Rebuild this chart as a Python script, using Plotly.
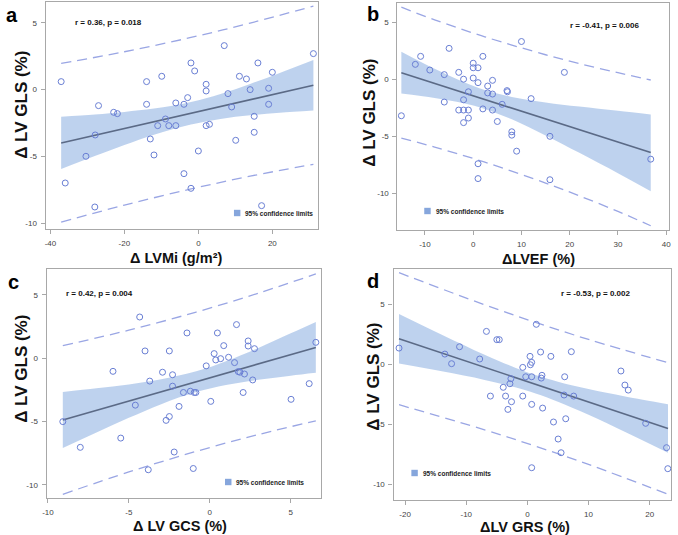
import plotly.graph_objects as go

W, H = 678, 535

# ---------------- data ----------------
# Panel a: dLVMi vs dLV GLS
a_x = [-37.1, -36, -30.4, -27.9, -28, -27, -22.9, -21.9, -14, -14, -13, -12, -11, -9.9, -8.9, -8, -6.1, -6.1,
       -3.9, -2.9, -3.9, -2, -1, -2, 0, 2.1, 2.1, 2.1, 3, 7, 8, 9, 10.1, 11.1, 13, 14, 15.1, 15.1, 16.1, 17.1,
       19, 19, 20, 31.1]
a_y = [0.6, -7.0, -5.0, -3.4, -8.8, -1.2, -1.7, -1.8, 0.6, -1.1, -3.7, -4.9, -2.7, 1.0, -2.2, -2.7, -1.0, -2.7,
       -1.1, -0.6, -6.3, 2.0, 1.4, -7.4, -4.6, 0.4, -0.1, -2.7, -2.6, 3.3, -0.3, -1.3, -3.8, 1.0, 0.8, 0.0, -2.0,
       -3.2, 2.0, -8.7, 0.1, -1.1, 1.3, 2.7]
a_fit_x = [-37.1, 31.1]
a_fit_y = [-4.0, 0.33]
a_band_x = [-37.1, -28, -20, -12, -2, 6, 14, 22, 31.1]
a_band_hi = [-2.03, -1.86, -1.67, -1.42, -0.92, -0.32, 0.43, 1.25, 2.22]
a_band_lo = [-5.95, -4.98, -4.15, -3.38, -2.62, -2.20, -1.93, -1.73, -1.56]
a_pred_x = [-37.1, -20, -2, 14, 31.1]
a_pred_hi = [1.96, 2.84, 3.91, 4.99, 6.26]
a_pred_lo = [-9.94, -8.66, -7.45, -6.49, -5.60]

# Panel b: dLVEF vs dLV GLS
b_x = [-14.9, -12, -10.9, -9, -6, -6, -5, -3, -3, -2, -2, -2, -2, -1, -1, -1, 0, 0, 0, 1, 1, 1, 1, 2, 2,
       3, 3, 4, 4, 4, 5, 6, 7, 7.1, 8, 8, 9, 10, 12, 15.9, 15.9, 18.9, 36.8]
b_y = [-3.2, 1.3, 2.0, 0.8, 0.4, -2.0, 2.7, 0.6, -2.7, 0.0, -1.8, -2.7, -3.8, -1.1, -2.7, -3.4, 1.4, 1.0, 0.1,
       1.0, -0.3, -7.4, -8.7, 2.0, -2.6, -0.6, -1.2, -0.1, -1.3, -2.7, -3.7, -2.2, -1.0, -1.1, -4.6, -4.9,
       -6.3, 3.3, -1.7, -5.0, -8.8, 0.6, -7.0]
b_fit_x = [-14.9, 36.8]
b_fit_y = [0.56, -6.42]
b_band_x = [-14.9, -8, -2, 2.4, 8, 15, 22, 30, 36.8]
b_band_hi = [2.41, 0.91, -0.25, -0.95, -1.55, -2.03, -2.40, -2.77, -3.08]
b_band_lo = [-1.26, -1.65, -2.11, -2.60, -3.51, -4.92, -6.44, -8.23, -9.81]
b_pred_x = [-14.9, -8, 2.4, 15, 22, 30, 36.8]
b_pred_hi = [6.30, 5.20, 3.71, 2.14, 1.37, 0.57, -0.07]
b_pred_lo = [-5.15, -5.94, -7.26, -9.09, -10.21, -11.57, -12.83]

# Panel c: dLV GCS vs dLV GLS
c_x = [-9.08, -8.0, -5.98, -5.5, -4.6, -4.33, -4.0, -3.71, -3.8, -2.92, -2.7, -2.5, -2.5, -2.3, -2.3, -2.2,
       -1.9, -1.63, -1.41, -1.2, -0.96, -0.86, -1.02, -0.22, 0.06, 0.27, 0.37, 0.47, 0.67, 0.86, 1.16, 1.53,
       1.65, 1.76, 1.86, 2.14, 2.06, 2.37, 2.37, 2.65, 2.76, 5.02, 6.14, 6.55]
c_y = [-5.0, -7.03, -1.03, -6.3, -3.7, 3.26, 0.58, -1.8, -8.8, -1.1, -4.9, -4.6, 0.58, -1.3, -2.2, -7.4,
       -3.8, -2.7, 2.0, -2.6, -2.7, -2.7, -8.7, -0.6, -3.4, 0.37, -0.13, 2.0, -0.03, 1.0, 0.08, -0.34, 2.66,
       -1.05, -1.1, -1.24, -2.7, 1.37, 0.97, -1.71, 0.76, -3.24, -2.0, 1.26]
c_fit_x = [-9.08, 6.55]
c_fit_y = [-4.87, 0.86]
c_band_x = [-9.08, -7, -5, -3, -0.84, 1, 3, 5, 6.55]
c_band_hi = [-2.66, -2.37, -2.06, -1.66, -1.03, -0.23, 0.82, 1.97, 2.87]
c_band_lo = [-7.08, -5.85, -4.70, -3.62, -2.67, -2.11, -1.70, -1.38, -1.15]
c_pred_x = [-9.08, -5, -0.84, 3, 6.55]
c_pred_hi = [1.00, 2.22, 3.65, 5.14, 6.66]
c_pred_lo = [-10.74, -8.97, -7.35, -6.02, -4.94]

# Panel d: dLV GRS vs dLV GLS
d_x = [-21.0, -13.5, -12.4, -11.1, -7.8, -6.7, -6.05, -5.0, -4.6, -3.95, -3.57, -3.19, -2.86, -2.7, -2.6,
       -0.76, -0.76, -0.27, 0.43, 0.49, 0.7, 0.7, 0.7, 0.7, 1.46, 2.16, 2.27, 2.38, 2.49, 3.84, 4.27, 5.03,
       5.51, 6.1, 6.0, 6.27, 7.19, 7.57, 15.3, 15.95, 16.5, 19.35, 22.76, 22.97]
d_y = [1.33, 0.83, 0.03, 1.44, 0.42, 2.72, -2.67, 2.03, 2.03, -1.94, -2.67, -3.78, -1.64, -1.22, -3.14,
       -0.28, -2.67, -1.06, 0.64, -0.06, 0.14, -1.06, -3.36, -8.64, 3.31, 1.0, -1.17, -0.94, -3.67, 0.64,
       -4.83, -6.25, -7.39, -1.06, -2.58, -4.56, 1.03, -2.67, -0.58, -1.75, -2.17, -4.94, -6.97, -8.72]
d_fit_x = [-21.0, 23.0]
d_fit_y = [2.11, -5.37]
d_band_x = [-21, -14, -7, -2, 1.34, 5, 10, 16, 23]
d_band_hi = [4.18, 2.45, 0.78, -0.30, -0.92, -1.48, -2.09, -2.70, -3.35]
d_band_lo = [0.04, -0.61, -1.32, -1.94, -2.46, -3.14, -4.23, -5.66, -7.39]
d_pred_x = [-21, -7, 1.34, 10, 23]
d_pred_hi = [7.61, 4.94, 3.47, 2.05, 0.11]
d_pred_lo = [-3.39, -5.48, -6.85, -8.37, -10.85]

stats_text = ["r = 0.36, p = 0.018", "r = -0.41, p = 0.006", "r = 0.42, p = 0.004", "r = -0.53, p = 0.002"]
x_titles = ["Δ LVMi (g/m²)", "ΔLVEF (%)", "Δ LV GCS (%)", "ΔLV GRS (%)"]
y_title = "Δ LV GLS (%)"
panel_letters = ["a", "b", "c", "d"]
legend_label = "95% confidence limits"

x_ticks = [[-40, -20, 0, 20], [-10, 0, 10, 20, 30, 40], [-10, -5, 0, 5], [-20, -10, 0, 10, 20]]
y_ticks = [-10, -5, 0, 5]

# ---------------- layout geometry (pixels) ----------------
# plot frames: left, right, top, bottom
frames = [(42, 317, 2, 229), (397, 671, 3, 230), (43, 320, 269, 498), (393, 673, 269, 500)]
x_ranges = [[-41.3, 32.4], [-15.7, 40.6], [-10.08, 6.88], [-21.9, 23.5]]
y_ranges = [[-10.45, 6.57], [-13.2, 6.67], [-11.03, 7.05], [-11.33, 7.92]]

stats_pos = [(70, 23, "left"), (643, 25, "right"), (61, 293, "left"), (634, 293, "right")]
legend_pos = [(232, 213), (424, 211), (223, 482), (411, 473)]
letter_pos = [(8, 15), (372, 14), (10, 282), (372, 281)]
xtitle_pos = [(174, 258), (539, 259), (178, 526), (526, 527)]
ytitle_pos = [(17, 105), (369, 113), (17, 369), (372, 377)]

panels = [
    (a_x, a_y, a_fit_x, a_fit_y, a_band_x, a_band_hi, a_band_lo, a_pred_x, a_pred_hi, a_pred_lo),
    (b_x, b_y, b_fit_x, b_fit_y, b_band_x, b_band_hi, b_band_lo, b_pred_x, b_pred_hi, b_pred_lo),
    (c_x, c_y, c_fit_x, c_fit_y, c_band_x, c_band_hi, c_band_lo, c_pred_x, c_pred_hi, c_pred_lo),
    (d_x, d_y, d_fit_x, d_fit_y, d_band_x, d_band_hi, d_band_lo, d_pred_x, d_pred_hi, d_pred_lo),
]

BAND = "rgba(150,182,228,0.62)"
LINE = "#5b6a86"
MARK = "#6a7fd4"
DASH = "#9aa6e4"
FRAME = "#a8a8a8"
FONT = "Liberation Sans, Arial, sans-serif"

def px(x):
    return x / W

def py(y):
    return 1 - y / H

fig = go.Figure()
layout = dict(
    width=W, height=H, margin=dict(l=0, r=0, t=0, b=0),
    paper_bgcolor="white", plot_bgcolor="white", showlegend=False,
    font=dict(family=FONT, color="#333"),
)
annotations = []
shapes = []

for i, (xs, ys, fx, fy, bx, bhi, blo, pxs, phi, plo) in enumerate(panels):
    n = "" if i == 0 else str(i + 1)
    xa, ya = "x" + n, "y" + n
    l, r, t, b = frames[i]
    common = dict(showgrid=False, zeroline=False, showline=True, mirror=True, linecolor=FRAME,
                  linewidth=1.2, ticks="outside", ticklen=4, tickwidth=1, tickcolor=FRAME,
                  ticklabelstandoff=2,
                  tickfont=dict(size=8, color="#444", family=FONT))
    layout["xaxis" + n] = dict(domain=[px(l), px(r)], range=x_ranges[i], anchor=ya,
                               tickvals=x_ticks[i], ticktext=[str(v) for v in x_ticks[i]], **common)
    layout["yaxis" + n] = dict(domain=[py(b), py(t)], range=y_ranges[i], anchor=xa,
                               tickvals=y_ticks, ticktext=[str(v) for v in y_ticks], **common)

    # confidence band
    fig.add_trace(go.Scatter(x=bx, y=blo, xaxis=xa, yaxis=ya, mode="lines",
                             line=dict(width=0, color=BAND, shape="spline"), hoverinfo="skip"))
    fig.add_trace(go.Scatter(x=bx, y=bhi, xaxis=xa, yaxis=ya, mode="lines", fill="tonexty",
                             fillcolor=BAND, line=dict(width=0, color=BAND, shape="spline"),
                             hoverinfo="skip"))
    # prediction limits
    for yy in (phi, plo):
        fig.add_trace(go.Scatter(x=pxs, y=yy, xaxis=xa, yaxis=ya, mode="lines",
                                 line=dict(color=DASH, width=1.3, dash="10px,6px", shape="spline")))
    # regression line
    fig.add_trace(go.Scatter(x=fx, y=fy, xaxis=xa, yaxis=ya, mode="lines",
                             line=dict(color=LINE, width=1.6)))
    # observations
    fig.add_trace(go.Scatter(x=xs, y=ys, xaxis=xa, yaxis=ya, mode="markers",
                             marker=dict(symbol="circle-open", size=6, color=MARK,
                                         line=dict(width=1, color=MARK))))

    # statistics text
    sx, sy, anc = stats_pos[i]
    annotations.append(dict(x=px(sx), y=py(sy), xref="paper", yref="paper", text="<b>%s</b>" % stats_text[i],
                            showarrow=False, xanchor=anc, yanchor="middle",
                            font=dict(size=8, color="#111", family=FONT)))
    # legend
    lx, ly = legend_pos[i]
    shapes.append(dict(type="rect", xref="paper", yref="paper", x0=px(lx), x1=px(lx + 6.5),
                       y0=py(ly + 3.2), y1=py(ly - 3.2), fillcolor="#86a6dc", line=dict(width=0)))
    annotations.append(dict(x=px(lx + 9.5), y=py(ly), xref="paper", yref="paper",
                            text="<b>%s</b>" % legend_label,
                            showarrow=False, xanchor="left", yanchor="middle",
                            font=dict(size=6.5, color="#222", family=FONT)))
    # panel letter
    gx, gy = letter_pos[i]
    annotations.append(dict(x=px(gx), y=py(gy), xref="paper", yref="paper", text="<b>%s</b>" % panel_letters[i],
                            showarrow=False, xanchor="center", yanchor="middle",
                            font=dict(size=20, color="#000", family=FONT)))
    # axis titles
    tx, ty = xtitle_pos[i]
    annotations.append(dict(x=px(tx), y=py(ty), xref="paper", yref="paper", text="<b>%s</b>" % x_titles[i],
                            showarrow=False, xanchor="center", yanchor="middle",
                            font=dict(size=14.5, color="#111", family=FONT)))
    vx, vy = ytitle_pos[i]
    annotations.append(dict(x=px(vx), y=py(vy), xref="paper", yref="paper", text="<b>%s</b>" % y_title,
                            showarrow=False, xanchor="center", yanchor="middle", textangle=-90,
                            font=dict(size=17, color="#111", family=FONT)))

layout["annotations"] = annotations
layout["shapes"] = shapes
fig.update_layout(**layout)
fig.write_html("out.html", config={"displayModeBar": False},
               post_script="document.body.style.margin='0';document.body.style.padding='0';")
